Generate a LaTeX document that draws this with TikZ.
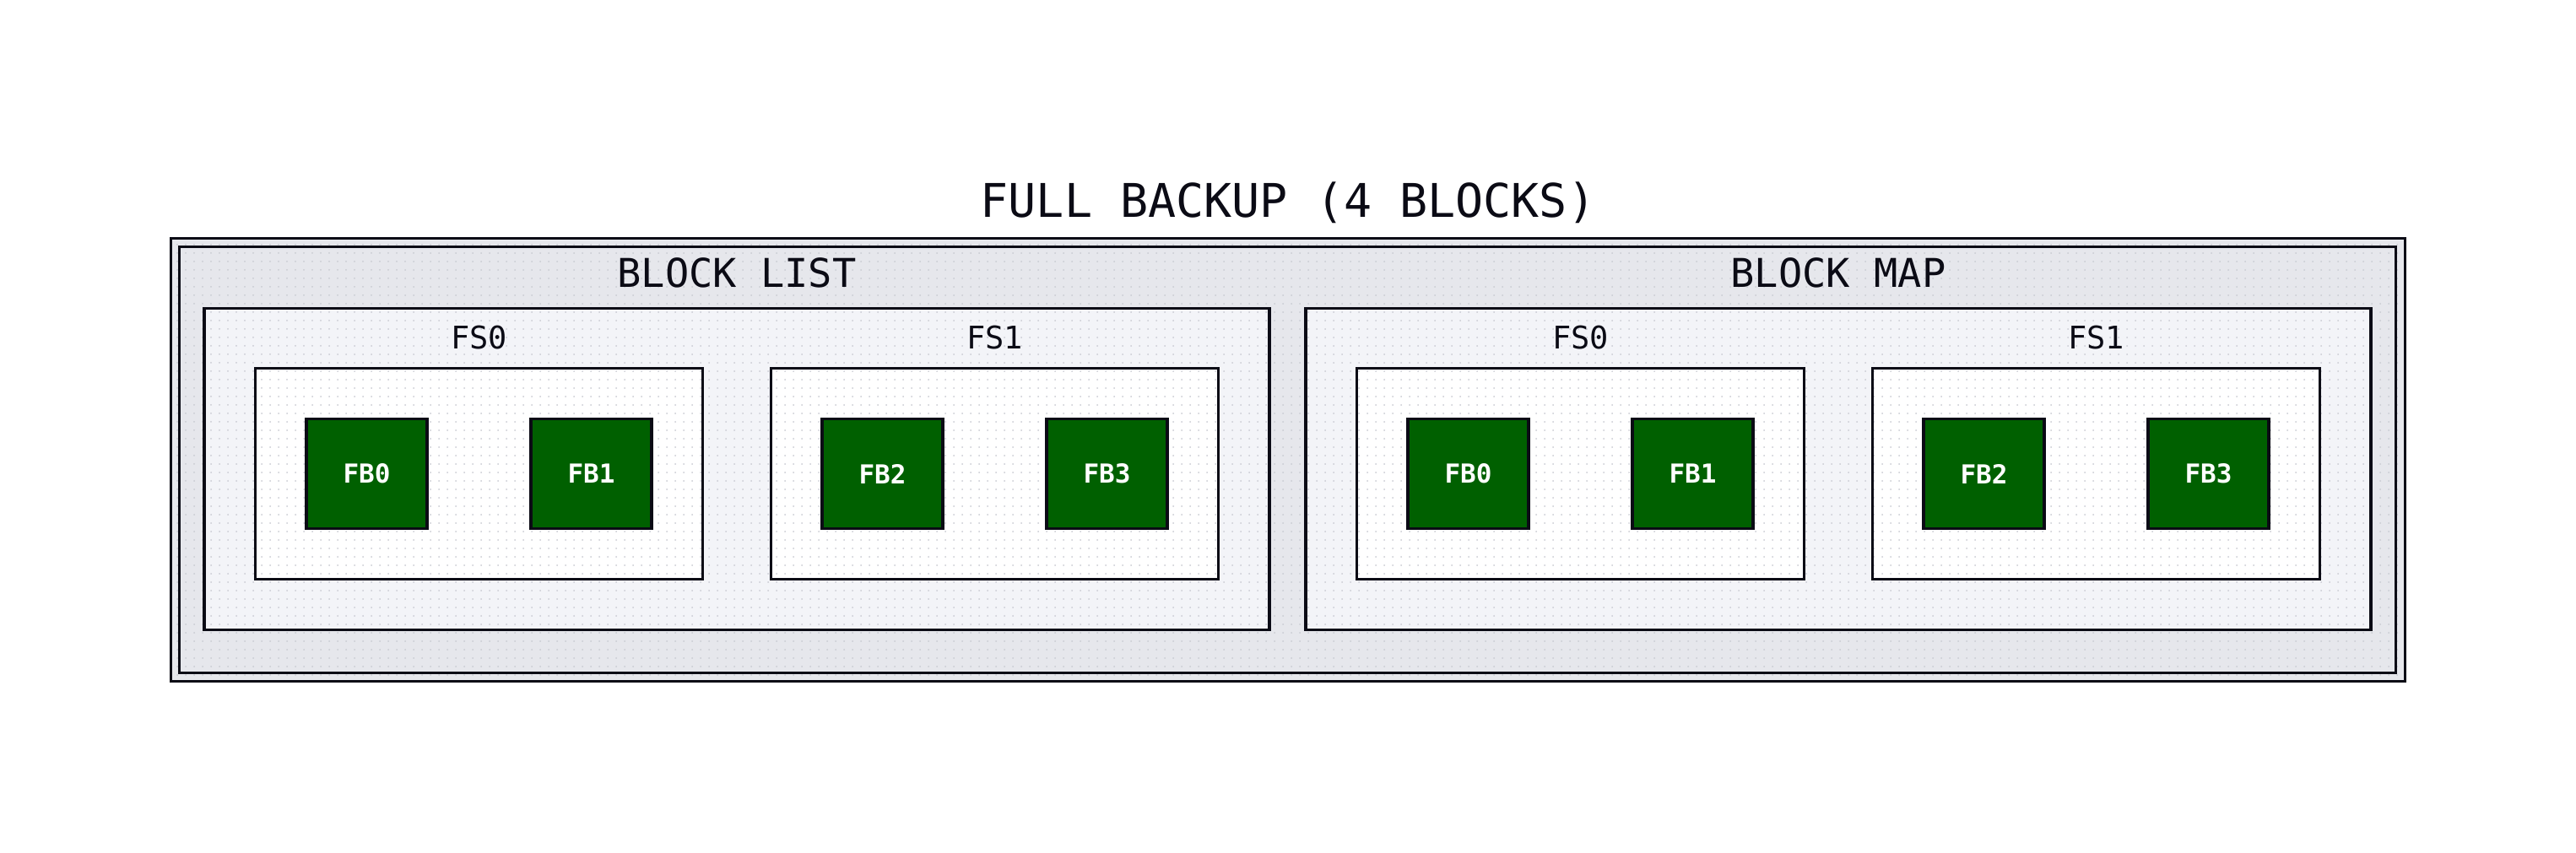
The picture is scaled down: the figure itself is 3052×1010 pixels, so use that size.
\documentclass[tikz,border=0pt]{standalone}
\usepackage{fontspec}
\setmonofont{DejaVu Sans Mono}
\usetikzlibrary{patterns}
\definecolor{inkline}{HTML}{0B0B15}
\definecolor{clusterbg}{HTML}{E6E7EC}
\definecolor{groupbg}{HTML}{F3F4F8}
\definecolor{fbgreen}{RGB}{0,96,0}
\definecolor{dotgray}{HTML}{C9CBD2}
\pgfdeclarepatternformonly{griddots}{\pgfpoint{-1pt}{-1pt}}{\pgfpoint{1pt}{1pt}}{\pgfpoint{10pt}{10pt}}{\pgfpathcircle{\pgfpointorigin}{1pt}\pgfusepath{fill}}

\begin{document}
\begin{tikzpicture}[x=1pt,y=-1pt,font=\ttfamily]

		\tikzset{frame/.style = {shape=rectangle,draw=inkline,line width=3.2pt,inner sep=0pt}}
		\tikzset{cluster/.style = {frame,preaction={fill=clusterbg},pattern=griddots,pattern color=dotgray}}
		\tikzset{group/.style = {frame,preaction={fill=groupbg},pattern=griddots,pattern color=dotgray,minimum width=1262pt,minimum height=381pt}}
		\tikzset{fsbox/.style = {frame,preaction={fill=white},pattern=griddots,pattern color=dotgray,minimum width=530pt,minimum height=250pt}}
		\tikzset{fbbox/.style = {frame,fill=fbgreen,text=white,minimum width=143pt,minimum height=130pt,font=\ttfamily\bfseries\fontsize{31}{36}\selectfont}}
		\tikzset{caption/.style = {anchor=base,inner sep=0pt,text=inkline}}
		\useasboundingbox (0,0) rectangle (3052,1010);
		% frames
		\node[cluster,minimum width=2647pt,minimum height=525pt] (backup) at (1526,545) {};
		\node[frame,minimum width=2626pt,minimum height=505pt] (inner) at (1525.5,545) {};
		\node[group] (list) at (873,556) {};
		\node[group] (map) at (2178,556) {};
		\node[fsbox] (list0) at (567.5,561.5) {};
		\node[fsbox] (list1) at (1178.5,561.5) {};
		\node[fsbox] (map0) at (1872.5,561.5) {};
		\node[fsbox] (map1) at (2483.5,561.5) {};
		% blocks
		\node[fbbox] (lfb0) at (434.5,561.5) {FB0};
		\node[fbbox] (lfb1) at (700.5,561.5) {FB1};
		\node[fbbox] (lfb2) at (1045.5,561.5) {FB2};
		\node[fbbox] (lfb3) at (1311.5,561.5) {FB3};
		\node[fbbox] (mfb0) at (1739.5,561.5) {FB0};
		\node[fbbox] (mfb1) at (2005.5,561.5) {FB1};
		\node[fbbox] (mfb2) at (2350.5,561.5) {FB2};
		\node[fbbox] (mfb3) at (2616.5,561.5) {FB3};
		% labels
		\node[caption,font=\ttfamily\fontsize{55}{62}\selectfont] (title) at (1526,257) {FULL BACKUP (4 BLOCKS)};
		\node[caption,font=\ttfamily\fontsize{47}{54}\selectfont] (listlbl) at (873,340) {BLOCK LIST};
		\node[caption,font=\ttfamily\fontsize{47}{54}\selectfont] (maplbl) at (2178,340) {BLOCK MAP};
		\node[caption,font=\ttfamily\fontsize{37}{42}\selectfont] (list0lbl) at (567.5,413) {FS0};
		\node[caption,font=\ttfamily\fontsize{37}{42}\selectfont] (list1lbl) at (1178.5,413) {FS1};
		\node[caption,font=\ttfamily\fontsize{37}{42}\selectfont] (map0lbl) at (1872.5,413) {FS0};
		\node[caption,font=\ttfamily\fontsize{37}{42}\selectfont] (map1lbl) at (2483.5,413) {FS1};
\end{tikzpicture}
\end{document}
